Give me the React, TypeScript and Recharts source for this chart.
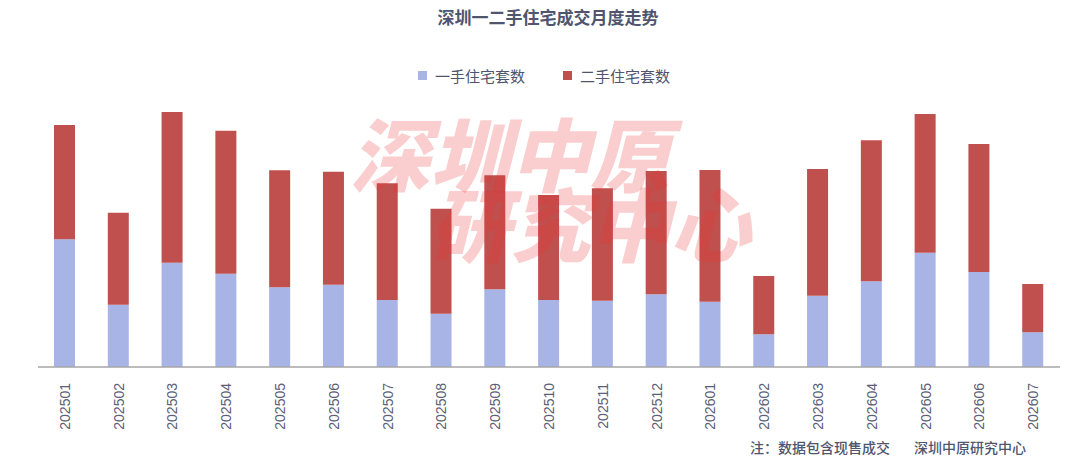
import React from "react";
import { BarChart, Bar, XAxis, YAxis } from "recharts";

const months = [
  "202501", "202502", "202503", "202504", "202505", "202506", "202507",
  "202508", "202509", "202510", "202511", "202512", "202601", "202602",
  "202603", "202604", "202605", "202606", "202607",
];

const newHomes = [
  5110, 2490, 4170, 3730, 3190, 3290, 2680, 2130, 3110, 2680, 2650, 2910,
  2610, 1310, 2850, 3430, 4570, 3800, 1390,
];

const resaleHomes = [
  4570, 3680, 6030, 5720, 4680, 4520, 4670, 4200, 4560, 4200, 4500, 4930,
  5270, 2330, 5070, 5640, 5550, 5120, 1930,
];

const data = months.map((m, i) => ({
  month: m,
  first: newHomes[i],
  second: resaleHomes[i],
}));

const BLUE = "#a8b4e6";
const RED = "#c0504d";
const TEXT = "#4f556e";
const CJK = '"Noto Sans CJK SC", "Noto Sans", sans-serif';

function MonthTick({ x, y, payload }: { x?: number; y?: number; payload?: { value: string } }) {
  return (
    <text
      transform={`translate(${(x ?? 0) + 5},${(y ?? 0) + 8}) rotate(-90)`}
      textAnchor="end"
      fontSize={14}
      fontFamily='"Liberation Sans", Arial, sans-serif'
      fill="#5a6078"
    >
      {payload?.value}
    </text>
  );
}

function ChartLegend() {
  const items = [
    { label: "一手住宅套数", color: BLUE },
    { label: "二手住宅套数", color: RED },
  ];
  return (
    <div
      style={{
        position: "absolute",
        top: 65,
        left: 0,
        width: 1080,
        display: "flex",
        justifyContent: "center",
        gap: 38,
        fontFamily: CJK,
        fontSize: 15,
        color: TEXT,
        paddingLeft: 4,
      }}
    >
      {items.map((it) => (
        <div key={it.label} style={{ display: "flex", alignItems: "center", gap: 8 }}>
          <span style={{ display: "inline-block", width: 9, height: 9, background: it.color }} />
          <span>{it.label}</span>
        </div>
      ))}
    </div>
  );
}

export default function App() {
  return (
    <div style={{ position: "absolute", left: 0, top: 0, width: 1080, height: 470, background: "#fff", overflow: "hidden" }}>
      <div
        style={{
          position: "absolute",
          top: 4,
          left: 0,
          width: 1080,
          textAlign: "center",
          fontFamily: CJK,
          fontWeight: 700,
          fontSize: 17,
          color: TEXT,
          paddingLeft: 8,
        }}
      >
        深圳一二手住宅成交月度走势
      </div>
      <ChartLegend />
      <BarChart
        width={1080}
        height={470}
        data={data}
        margin={{ top: 107, left: 38, right: 20, bottom: 0 }}
        barSize={21}
      >
        <XAxis
          dataKey="month"
          height={103}
          tick={<MonthTick />}
          tickLine={false}
          axisLine={{ stroke: "#a6a6a6", strokeWidth: 1.5 }}
          interval={0}
        />
        <YAxis hide domain={[0, 10400]} />
        <Bar dataKey="first" name="一手住宅套数" stackId="a" fill={BLUE} isAnimationActive={false} />
        <Bar dataKey="second" name="二手住宅套数" stackId="a" fill={RED} isAnimationActive={false} />
      </BarChart>
      {/* watermark */}
      <div
        style={{
          position: "absolute",
          left: 350,
          top: 116,
          fontFamily: CJK,
          fontWeight: 900,
          fontStyle: "italic",
          fontSize: 80,
          lineHeight: "70px",
          color: "rgba(235, 50, 50, 0.24)",
          pointerEvents: "none",
          whiteSpace: "pre",
        }}
      >
        {"深圳中原\n\u2003研究中心"}
      </div>
      <div
        style={{
          position: "absolute",
          left: 750,
          top: 437,
          fontFamily: CJK,
          fontSize: 14,
          fontWeight: 500,
          color: TEXT,
          whiteSpace: "nowrap",
        }}
      >
        注：数据包含现售成交<span style={{ marginLeft: 24 }}>深圳中原研究中心</span>
      </div>
    </div>
  );
}
